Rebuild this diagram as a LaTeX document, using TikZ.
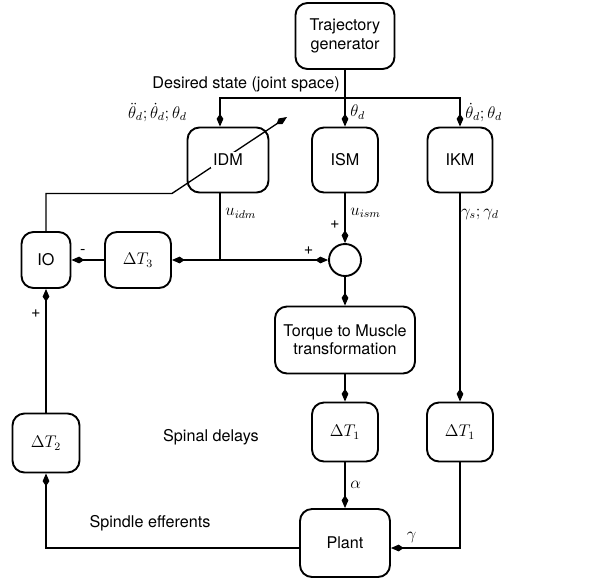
\documentclass[tikz,border=0pt]{standalone}
\usepackage[no-math]{fontspec}
\setmainfont{TeX Gyre Heros}
\usetikzlibrary{arrows.meta, backgrounds}
\setlength{\fboxsep}{1.5pt}
\tikzstyle{block} = [rectangle, rounded corners=0.3cm, draw=black, line width=1.35pt,
text centered, align=center]
\tikzstyle{junction} = [circle, draw=black, line width=1.35pt, minimum size=0.8cm, inner sep=0pt]
\tikzstyle{line} = [line width=0.95pt]
\tikzstyle{arrow} = [line width=0.95pt, -{Kite[length=9pt, width=4.8pt, inset=3.5pt]}]

\begin{document}
\begin{tikzpicture}[node distance = 2cm, font=\fontsize{11.5}{13}\selectfont]
\useasboundingbox (0,0) rectangle (15.075,-14.45);

% ------------------------- nodes -------------------------
% ----- node: trajectory generator
\node(traj)[block, minimum width=2.475cm, minimum height=1.65cm] at (8.625,-0.9) {Trajectory\\generator};
% ----- node: inverse models
\node(ism)[block, below of=traj, yshift=-1.1cm, minimum width=1.65cm, minimum height=1.625cm]{ISM};
\node(idm)[block, left of=ism, xshift=-0.925cm, minimum width=2.025cm, minimum height=1.625cm]{\colorbox{white}{IDM}};
\node(ikm)[block, right of=ism, xshift=0.875cm, minimum width=1.625cm, minimum height=1.625cm]{IKM};
% ----- node: summing point
\node(sum)[junction, below of=ism, yshift=-0.5cm]{};
\node(dt3)[block, left of=sum, xshift=-3.175cm, minimum width=1.65cm, minimum height=1.4cm]{$\Delta T_3$};
\node(io)[block, left of=dt3, xshift=-0.3cm, minimum width=1.225cm, minimum height=1.4cm]{IO};
% ----- node: torque to muscle
\node(torque)[block, below of=sum, minimum width=3.5cm, minimum height=1.675cm]{Torque to Muscle\\transformation};
% ----- node: delays
\node(dt1a)[block, below of=torque, yshift=-0.3cm, minimum width=1.65cm, minimum height=1.475cm]{$\Delta T_1$};
\node(dt1b)[block, right of=dt1a, xshift=0.875cm, minimum width=1.65cm, minimum height=1.475cm]{$\Delta T_1$};
\node(dt2)[block, below of=io, yshift=-2.575cm, minimum width=1.675cm, minimum height=1.475cm]{$\Delta T_2$};
\node(spinal)[left of=dt1a, xshift=-1.35cm, yshift=-0.125cm]{Spinal delays};
% ----- node: plant
\node(plant)[block, below of=dt1a, yshift=-0.775cm, minimum width=2.25cm, minimum height=1.7cm]{Plant};
\node(efferents)[left of=plant, xshift=-2.875cm, yshift=0.5cm]{Spindle efferents};

% ------------------------- connections -------------------------
\coordinate[below of=traj, yshift=0.45cm] (bus);
\coordinate (idmin) at ([xshift=-0.2cm]idm.north);
\coordinate (idmout) at ([xshift=-0.2cm]idm.south);
\coordinate (split) at (idmout |- sum);
\coordinate (kink) at ([xshift=-1.4cm]idm.south);
\coordinate (adapt) at ([xshift=1.475cm, yshift=1.075cm]idm.center);
\coordinate (plantin) at ([yshift=-0.125cm]plant.east);
\coordinate (plantout) at ([yshift=-0.125cm]plant.west);

\draw[line](traj)--node[left]{Desired state (joint space)}(bus);
\draw[arrow](bus)-|node[pos=0.75, left=0.7cm]{$\ddot{\theta}_d;\dot{\theta}_d;\theta_d$}(idmin);
\draw[arrow](bus)--node[right]{$\theta_d$}(ism);
\draw[arrow](bus)-|node[pos=0.75, right]{$\dot{\theta}_d;\theta_d$}(ikm);
\draw[line](idmout)--node[pos=0.3, right]{$u_{idm}$}(split);
\draw[arrow](ism)--node[pos=0.39, right]{$u_{ism}$} node[pos=0.63, left]{+}(sum);
\draw[arrow](split)--node[pos=0.82, above]{+}(sum);
\draw[arrow](split)--(dt3);
\draw[arrow](dt3)--node[pos=0.65, above]{-}(io);
\draw[arrow](sum)--(torque);
\draw[arrow](torque)--(dt1a);
\draw[arrow](dt1a)--node[right]{$\alpha$}(plant);
\draw[arrow](ikm)--node[pos=0.1, right, xshift=-3pt]{$\gamma_s;\gamma_d$}(dt1b);
\draw[arrow](dt1b)|-node[pos=0.85, above]{$\gamma$}(plantin);
\draw[arrow](plantout)-|(dt2);
\draw[arrow](dt2)--node[pos=0.8, left]{+}(io);
\begin{pgfonlayer}{background}
\draw[arrow](io)|-(kink)--(adapt);
\end{pgfonlayer}
\end{tikzpicture}
\end{document}
